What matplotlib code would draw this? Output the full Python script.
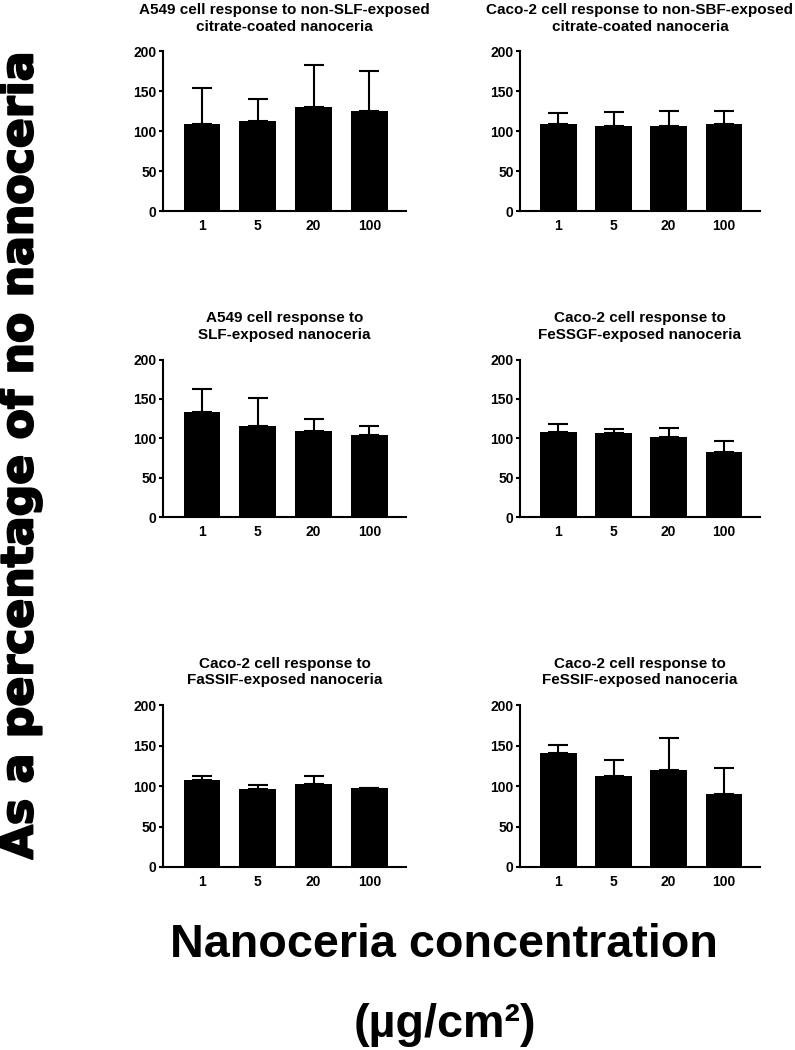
import matplotlib
matplotlib.use("Agg")
import matplotlib.pyplot as plt
import matplotlib.patheffects as pe

plt.rcParams['font.family'] = ['Liberation Sans', 'DejaVu Sans']

categories = ["1", "5", "20", "100"]

titles = [
    "A549 cell response to non-SLF-exposed\ncitrate-coated nanoceria",
    "Caco-2 cell response to non-SBF-exposed\ncitrate-coated nanoceria",
    "A549 cell response to\nSLF-exposed nanoceria",
    "Caco-2 cell response to\nFeSSGF-exposed nanoceria",
    "Caco-2 cell response to\nFaSSIF-exposed nanoceria",
    "Caco-2 cell response to\nFeSSIF-exposed nanoceria",
]

means_a549_nonslf = [109, 112.5, 130, 126]
err_a549_nonslf = [45, 28.5, 53.5, 49]
means_caco_nonsbf = [109, 107, 107, 109]
err_caco_nonsbf = [14, 17, 18, 16]
means_a549_slf = [133, 115, 109.5, 104.5]
err_a549_slf = [29.5, 36, 15, 10.5]
means_caco_fessgf = [108, 107, 101.5, 83]
err_caco_fessgf = [9.5, 4.5, 11, 13.5]
means_caco_fassif = [108, 96, 103, 98]
err_caco_fassif = [5, 5, 9, 0]
means_caco_fessif = [141.5, 112.5, 119.5, 90.5]
err_caco_fessif = [9, 19.5, 39.5, 32]

all_means = [means_a549_nonslf, means_caco_nonsbf, means_a549_slf,
             means_caco_fessgf, means_caco_fassif, means_caco_fessif]
all_errs = [err_a549_nonslf, err_caco_nonsbf, err_a549_slf,
            err_caco_fessgf, err_caco_fassif, err_caco_fessif]

yticks = [0, 50, 100, 150, 200]

fig = plt.figure(figsize=(7.95, 10.5), dpi=100)

col_x = [0.205, 0.654]
col_w = [0.306, 0.302]
row_y = [0.799, 0.5076, 0.1743]
row_h = [0.152, 0.150, 0.154]

for i in range(6):
    r, c = divmod(i, 2)
    ax = fig.add_axes([col_x[c], row_y[r], col_w[c], row_h[r]])
    x = list(range(len(categories)))
    means = all_means[i]
    errs = all_errs[i]
    ax.bar(x, means, width=0.66, color='black', zorder=2)
    ax.errorbar(x, means, yerr=[[0] * len(errs), errs], fmt='none',
                ecolor='black', elinewidth=1.5, capsize=7, capthick=1.5, zorder=3)
    ax.set_xlim(-0.7, 3.66)
    ax.set_ylim(0, 200)
    ax.set_yticks(yticks)
    ax.set_xticks(x)
    ax.set_xticklabels(categories)
    for s in ['top', 'right']:
        ax.spines[s].set_visible(False)
    for s in ['left', 'bottom']:
        ax.spines[s].set_linewidth(1.5)
    ax.tick_params(axis='y', length=3, width=1.5, labelsize=10, pad=1.5)
    ax.tick_params(axis='x', length=0, labelsize=10, pad=6)
    for lab in ax.get_xticklabels() + ax.get_yticklabels():
        lab.set_fontweight('bold')
    ax.set_title(titles[i], fontsize=11, fontweight='bold', pad=15, linespacing=1.2)

fig.text(0.025, 0.566, "As a percentage of no nanoceria", rotation=90,
         ha='center', va='center', fontsize=31.8, fontweight='bold',
         family=['DejaVu Sans'],
         path_effects=[pe.withStroke(linewidth=1.5, foreground='black')])
fig.text(0.558, 0.1, "Nanoceria concentration", ha='center', va='center',
         fontsize=33.7, fontweight='bold')
fig.text(0.56, 0.024, "(µg/cm²)", ha='center', va='center',
         fontsize=33.7, fontweight='bold')

fig.savefig("out.png", dpi=100)
